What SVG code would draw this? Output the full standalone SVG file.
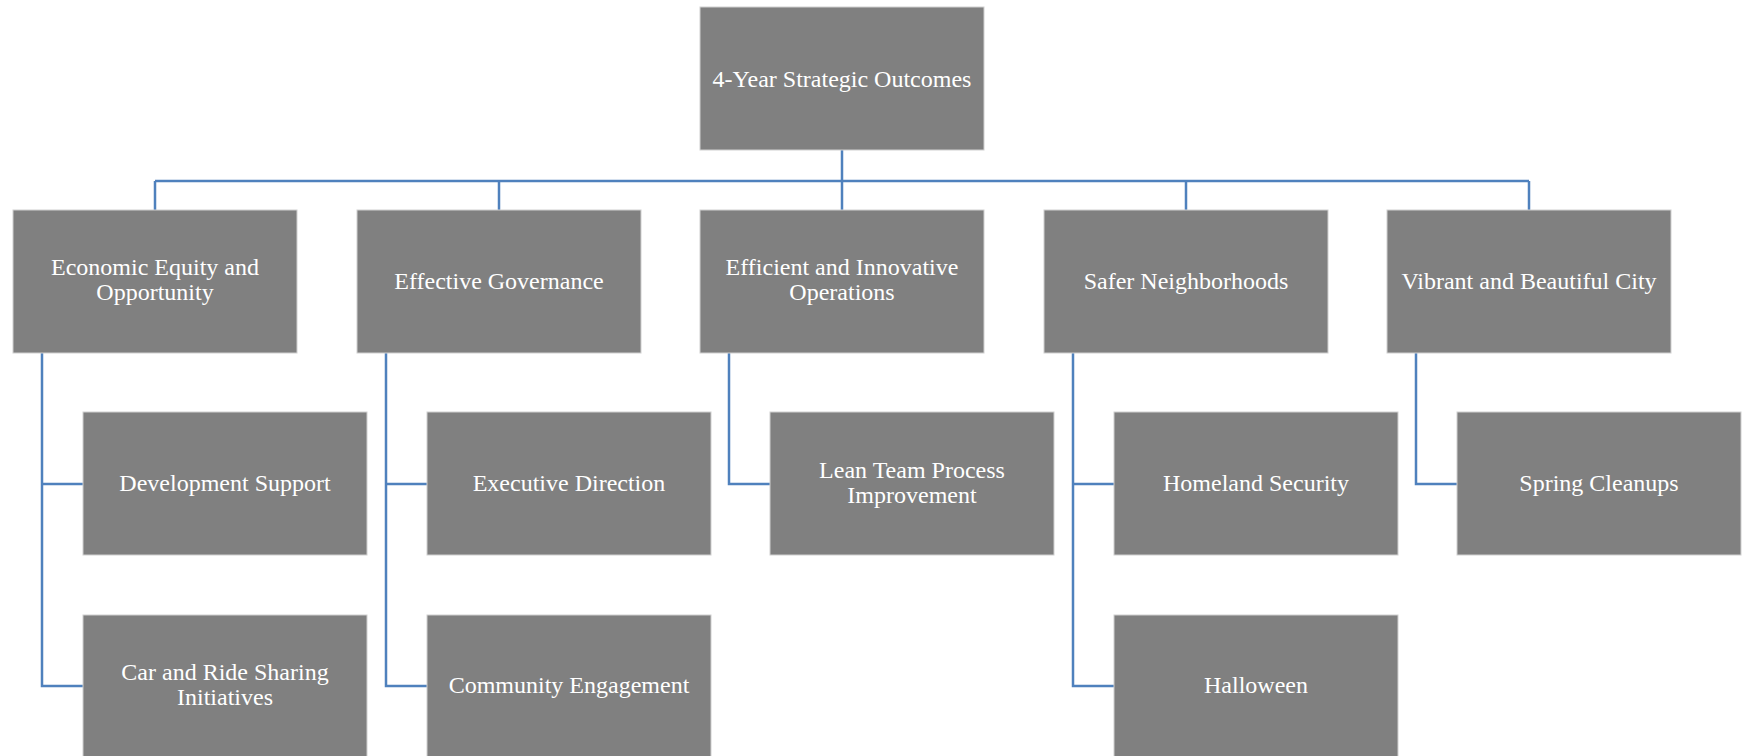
<svg xmlns="http://www.w3.org/2000/svg" width="1743" height="756" viewBox="0 0 1743 756">
<style>
.box{fill:#808080;stroke:#d0d0d0;stroke-width:1}
.t{fill:#ffffff;font-family:"Liberation Serif","Times New Roman",serif;font-size:24px;text-anchor:middle}
.c{fill:none;stroke:#4F81BD;stroke-width:2.5}
</style>
<rect width="1743" height="756" fill="#ffffff"/>
<g id="connectors">
<path class="c" d="M842 150V210M155 181H1529M155 181V210M499 181V210M842 181V210M1186 181V210M1529 181V210"/>
<path class="c" d="M42 353V686H83M42 484H83"/>
<path class="c" d="M386 353V686H427M386 484H427"/>
<path class="c" d="M729 353V484H770"/>
<path class="c" d="M1073 353V686H1114M1073 484H1114"/>
<path class="c" d="M1416 353V484H1457"/>
</g>
<g id="root"><rect class="box" x="700" y="7" width="284" height="143"/><text class="t" x="842" y="87">4-Year Strategic Outcomes</text></g>
<g id="n-economic"><rect class="box" x="13" y="210" width="284" height="143"/><text class="t" x="155" y="275">Economic Equity and</text><text class="t" x="155" y="300">Opportunity</text></g>
<g id="n-governance"><rect class="box" x="357" y="210" width="284" height="143"/><text class="t" x="499" y="289">Effective Governance</text></g>
<g id="n-operations"><rect class="box" x="700" y="210" width="284" height="143"/><text class="t" x="842" y="275">Efficient and Innovative</text><text class="t" x="842" y="300">Operations</text></g>
<g id="n-safer"><rect class="box" x="1044" y="210" width="284" height="143"/><text class="t" x="1186" y="289">Safer Neighborhoods</text></g>
<g id="n-vibrant"><rect class="box" x="1387" y="210" width="284" height="143"/><text class="t" x="1529" y="289">Vibrant and Beautiful City</text></g>
<g id="n-devsupport"><rect class="box" x="83" y="412" width="284" height="143"/><text class="t" x="225" y="491">Development Support</text></g>
<g id="n-carride"><rect class="box" x="83" y="615" width="284" height="143"/><text class="t" x="225" y="680">Car and Ride Sharing</text><text class="t" x="225" y="705">Initiatives</text></g>
<g id="n-executive"><rect class="box" x="427" y="412" width="284" height="143"/><text class="t" x="569" y="491">Executive Direction</text></g>
<g id="n-community"><rect class="box" x="427" y="615" width="284" height="143"/><text class="t" x="569" y="693">Community Engagement</text></g>
<g id="n-lean"><rect class="box" x="770" y="412" width="284" height="143"/><text class="t" x="912" y="478">Lean Team Process</text><text class="t" x="912" y="503">Improvement</text></g>
<g id="n-homeland"><rect class="box" x="1114" y="412" width="284" height="143"/><text class="t" x="1256" y="491">Homeland Security</text></g>
<g id="n-halloween"><rect class="box" x="1114" y="615" width="284" height="143"/><text class="t" x="1256" y="693">Halloween</text></g>
<g id="n-spring"><rect class="box" x="1457" y="412" width="284" height="143"/><text class="t" x="1599" y="491">Spring Cleanups</text></g>
</svg>
